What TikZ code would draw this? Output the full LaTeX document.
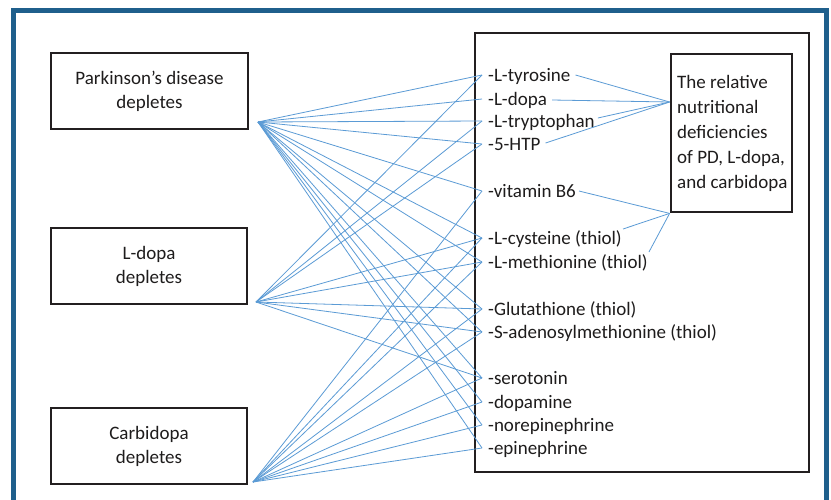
\documentclass[tikz,border=0pt]{standalone}
\usepackage{fontspec}
\setmainfont{Carlito}
\definecolor{frameblue}{RGB}{31,95,140}
\definecolor{linkblue}{RGB}{91,155,213}
\definecolor{boxline}{RGB}{35,31,32}
\definecolor{txt}{RGB}{30,28,28}
\begin{document}
\begin{tikzpicture}[x=1pt,y=-1pt,
  box/.style={draw=boxline,line width=2.8pt,inner sep=0pt,align=center,text=txt,font=\fontsize{19}{24}\selectfont},
  item/.style={font=\fontsize{19}{23}\selectfont,text=txt,anchor=west,inner sep=0pt,text height=12pt,text depth=0pt},
  link/.style={draw=linkblue,line width=0.8pt},
]
\useasboundingbox (0,0) rectangle (831,499);
\clip (0,0) rectangle (831,499);
\fill[white] (0,0) rectangle (831,499);
\draw[frameblue,line width=5.5pt] (13.5,520) -- (13.5,10.5) -- (826.5,10.5) -- (826.5,520);

% left boxes
\node[box,minimum width=197pt,minimum height=76pt] (pd) at (149.5,91) {Parkinson’s disease\\depletes};
\node[box,minimum width=196pt,minimum height=76pt] (ld) at (149,266) {L-dopa\\depletes};
\node[box,minimum width=196pt,minimum height=76pt] (cd) at (149,446) {Carbidopa\\depletes};

% big box and relative box
\node[box,minimum width=334pt,minimum height=439pt] (big) at (642,252.5) {};
\node[box,minimum width=121pt,minimum height=158pt] (rel) at (731.5,133) {};
\node[inner sep=0pt,anchor=west,align=left,text=txt,font=\fontsize{19}{25}\selectfont] (reltxt) at (677,133)
  {The relative\\nutritional\\deficiencies\\of PD, L-dopa,\\and carbidopa};

% list items
\node[item] (tyr)  at (488,75)  {-L-tyrosine};
\node[item] (ldp)  at (488,99)  {-L-dopa};
\node[item] (tryp) at (488,121) {-L-tryptophan};
\node[item] (htp)  at (488,144) {-5-HTP};
\node[item] (bsix) at (488,191) {-vitamin B6};
\node[item] (cys)  at (488,238) {-L-cysteine (thiol)};
\node[item] (meth) at (488,262) {-L-methionine (thiol)};
\node[item] (glut) at (488,309) {-Glutathione (thiol)};
\node[item] (same) at (488,332) {-S-adenosylmethionine (thiol)};
\node[item] (sero) at (488,378) {-serotonin};
\node[item] (dopa) at (488,402) {-dopamine};
\node[item] (nor)  at (488,425) {-norepinephrine};
\node[item] (epi)  at (488,448) {-epinephrine};

% fan points
\coordinate (pdF) at (258,122);
\coordinate (ldF) at (256,302);
\coordinate (cdF) at (253,482);

\foreach \t in {tyr,ldp,tryp,htp,bsix,cys,meth,glut,same,sero,dopa,nor,epi}
  \draw[link] (pdF) -- ([xshift=-6pt]\t.west);
\foreach \t in {tyr,tryp,htp,cys,meth,glut,same,sero}
  \draw[link] (ldF) -- ([xshift=-6pt]\t.west);
\foreach \t in {bsix,cys,meth,glut,same,sero,dopa,nor,epi}
  \draw[link] (cdF) -- ([xshift=-6pt]\t.west);

% links to the relative box
\coordinate (relIn) at ([yshift=31pt]rel.west);
\draw[link] ([xshift=5pt]tyr.east) -- (relIn);
\draw[link] ([xshift=5pt,yshift=-1pt]ldp.east) -- (relIn);
\draw[link] ([xshift=3pt,yshift=3pt]tryp.east) -- (relIn);
\draw[link] ([xshift=5pt,yshift=1pt]htp.east) -- (relIn);
\draw[link] ([xshift=3pt]bsix.east) -- (rel.south west);
\draw[link] ([xshift=1pt,yshift=9pt]cys.east) -- (rel.south west);
\draw[link] ([xshift=1pt,yshift=10pt]meth.east) -- (rel.south west);
\end{tikzpicture}
\end{document}
